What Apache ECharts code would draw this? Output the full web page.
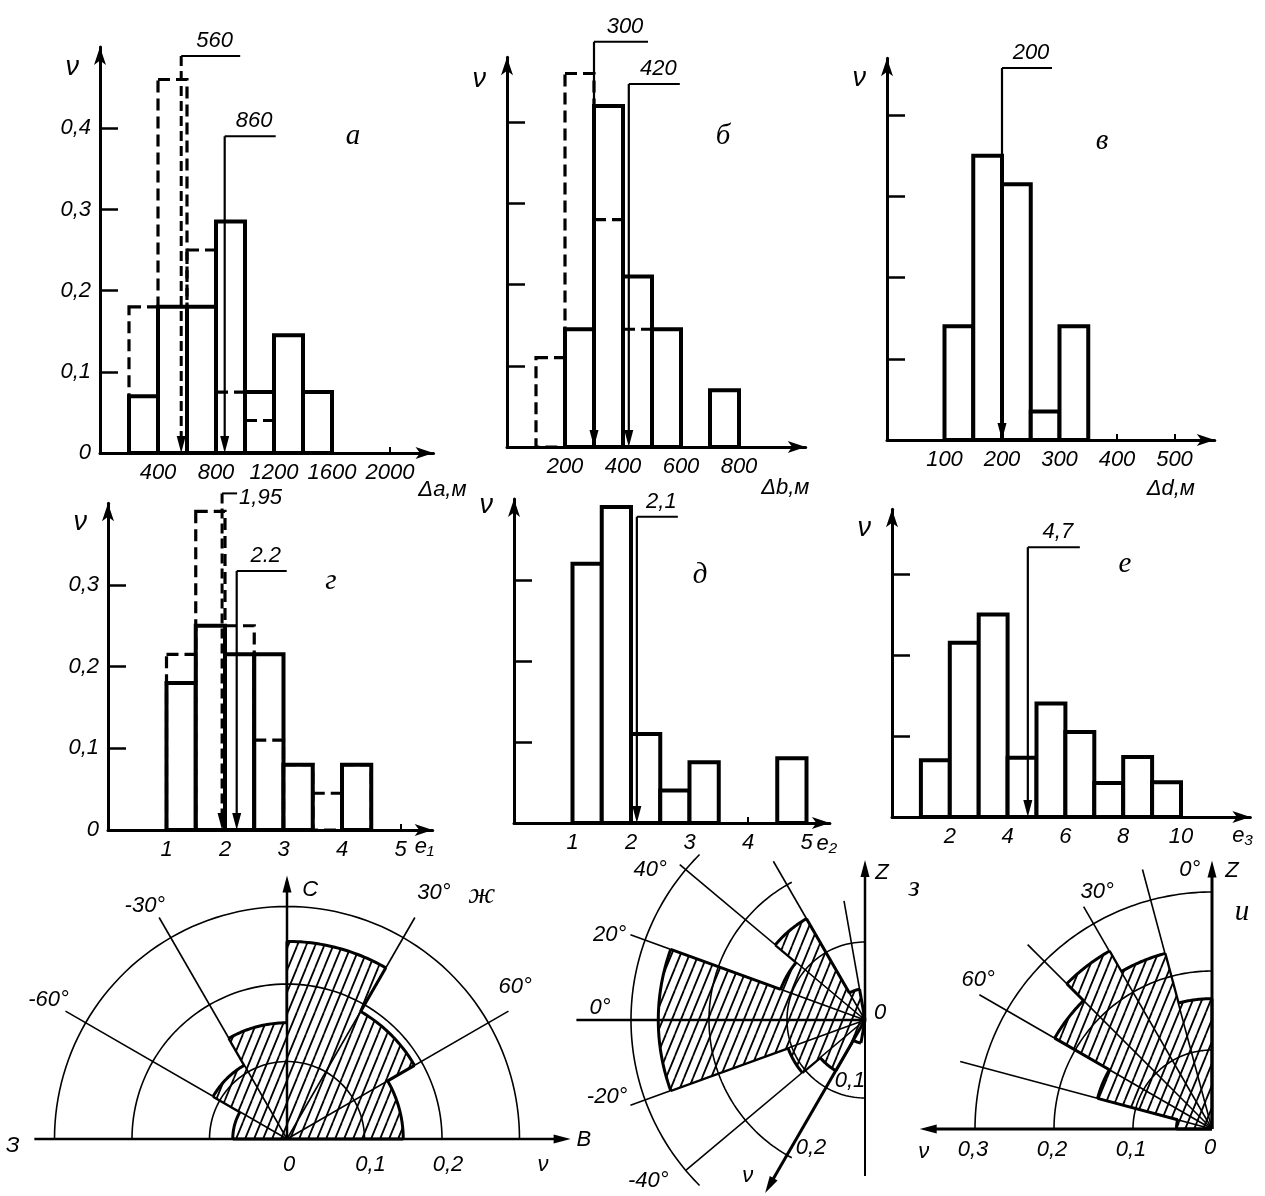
<!DOCTYPE html>
<html>
<head>
<meta charset="utf-8">
<title>Гистограммы и розы-диаграммы</title>
<script src="https://cdn.jsdelivr.net/npm/echarts@6/dist/echarts.min.js"></script>
<style>
  html, body { margin: 0; background: #fff; }
  #chart { width: 1265px; height: 1196px; }
</style>
</head>
<body>
<div id="chart"></div>
<script>
// ---------- histograms: bin edges and relative frequencies ν ----------
const aEdges = [200, 400, 600, 800, 1000, 1200, 1400, 1600];
const aSolid = [0.07, 0.18, 0.18, 0.285, 0.075, 0.145, 0.075];
const aDashed = [0.18, 0.46, 0.25, 0.075, 0.04, 0, 0];
const aMeans = [560, 860];
const aMeanLabels = ['560', '860'];
const aTicksX = [400, 800, 1200, 1600, 2000];

const bEdges = [100, 200, 300, 400, 500, 600, 700, 800];
const bSolid = [0, 0.145, 0.42, 0.21, 0.145, 0, 0.07];
const bDashed = [0.11, 0.46, 0.28, 0.145, 0, 0, 0];
const bMeans = [300, 420];
const bMeanLabels = ['300', '420'];
const bTicksX = [200, 400, 600, 800];

const vEdges = [100, 150, 200, 250, 300, 350];
const vSolid = [0.14, 0.35, 0.315, 0.035, 0.14];
const vMeans = [200];
const vMeanLabels = ['200'];
const vTicksX = [100, 200, 300, 400, 500];

const gEdges = [1, 1.5, 2, 2.5, 3, 3.5, 4, 4.5];
const gSolid = [0.18, 0.25, 0.215, 0.215, 0.08, 0, 0.08];
const gDashed = [0.215, 0.39, 0.25, 0.11, 0.08, 0.045, 0.08];
const gMeans = [1.95, 2.2];
const gMeanLabels = ['1,95', '2.2'];
const gTicksX = [1, 2, 3, 4, 5];

const dEdges = [1, 1.5, 2, 2.5, 3, 3.5, 4, 4.5, 5];
const dSolid = [0.32, 0.39, 0.11, 0.04, 0.075, 0, 0, 0.08];
const dMeans = [2.1];
const dMeanLabels = ['2,1'];
const dTicksX = [1, 2, 3, 4, 5];

const eEdges = [1, 2, 3, 4, 5, 6, 7, 8, 9, 10];
const eSolid = [0.07, 0.215, 0.25, 0.073, 0.14, 0.105, 0.042, 0.074, 0.043];
const eMeans = [4.7];
const eMeanLabels = ['4,7'];
const eTicksX = [2, 4, 6, 8, 10];

// ---------- rose diagrams: sector start angle (deg) and frequency ν ----------
const zhStart = [-90, -60, -30, 0, 30, 60];          // ж, 30° sectors, from north
const zhFreq = [0.07, 0.11, 0.15, 0.255, 0.19, 0.15];
const zhGuides = [-60, -30, 30, 60];
const zhRadiusTicks = [0, 0.1, 0.2];

const zeStart = [-80, -60, -40, -20, 0, 20, 40, 60]; // з, 20° sectors, from west
const zeFreq = [0.03, 0.075, 0.105, 0.265, 0.265, 0.115, 0.15, 0.04];
const zeGuides = [80, 60, 40, 20, -20, -40];
const zeRadiusTicks = [0, 0.1, 0.2];

const iStart = [0, 15, 30, 45, 60, 75];              // и, 15° sectors, from Z
const iFreq = [0.165, 0.23, 0.26, 0.23, 0.15, 0.045];
const iGuides = [15, 30, 45, 60, 75];
const iRadiusTicks = [0, 0.1, 0.2, 0.3];

const RINGS = [0.1, 0.2, 0.3];

// ---------- styles ----------
const SANS = '"Liberation Sans", "DejaVu Sans", sans-serif';
const LBL = 'italic 22px ' + SANS;
const LETTER = 'italic 29px "Liberation Serif", "DejaVu Serif", serif';

function fmt(v) { return String(v).replace('.', ','); }

// diagonal hatching for the roses
const HATCH = (function () {
  const w = 9, h = 22;
  const c = document.createElement('canvas');
  c.width = w; c.height = h;
  const g = c.getContext('2d');
  g.fillStyle = '#fff';
  g.fillRect(0, 0, w, h);
  g.strokeStyle = '#000';
  g.lineWidth = 1.8;
  [-w, 0, w].forEach(dx => {
    g.beginPath(); g.moveTo(dx, h); g.lineTo(dx + w, 0); g.stroke();
  });
  return { image: c, repeat: 'repeat' };
})();

function arrowHead(tip, from, len, half) {
  const dx = tip[0] - from[0], dy = tip[1] - from[1];
  const L = Math.hypot(dx, dy) || 1;
  const ux = dx / L, uy = dy / L;
  const bx = tip[0] - ux * len, by = tip[1] - uy * len;
  return [[tip[0], tip[1]], [bx - uy * half, by + ux * half], [bx + uy * half, by - ux * half]];
}

function txt(t, x, y, font, align) {
  return { type: 'text', x: x, y: y,
    style: { text: t, fill: '#000', font: font || LBL, align: align || 'center', verticalAlign: 'middle' } };
}

// ---------- histogram panels (layout) ----------
const hist = [
  { edges: aEdges, solid: aSolid, dashed: aDashed, means: aMeans, meanLabels: aMeanLabels, meanDash: [true, false],
    xTicks: aTicksX, xStep: 400, yTicks: [0.1, 0.2, 0.3, 0.4], yLabels: true, xName: 'Δa,м', letter: 'а', letterPos: [353, 136],
    left: 100, zeroY: 453, xMax: 2300, pxX: 0.145, yMax: 0.5, pxY: 812,
    leaderTop: [0.489, 0.39], leaderLen: [59, 51], labelSide: ['top', 'top'], xNameGap: -64, xNamePad: 26, yNameGap: -20 },
  { edges: bEdges, solid: bSolid, dashed: bDashed, means: bMeans, meanLabels: bMeanLabels, meanDash: [false, false],
    xTicks: bTicksX, xStep: 200, yTicks: [0.1, 0.2, 0.3, 0.4], yLabels: false, xName: 'Δb,м', letter: 'б', letterPos: [723, 136],
    left: 507, zeroY: 447, xMax: 1030, pxX: 0.29, yMax: 0.48, pxY: 812,
    leaderTop: [0.499, 0.447], leaderLen: [54, 51], labelSide: ['top', 'top'], xNameGap: -70, xNamePad: 30, yNameGap: -22 },
  { edges: vEdges, solid: vSolid, dashed: null, means: vMeans, meanLabels: vMeanLabels, meanDash: [false],
    xTicks: vTicksX, xStep: 100, yTicks: [0.1, 0.2, 0.3, 0.4], yLabels: false, xName: 'Δd,м', letter: 'в', letterPos: [1102, 141],
    left: 887, zeroY: 440, xMax: 570, pxX: 0.575, yMax: 0.47, pxY: 812,
    leaderTop: [0.458], leaderLen: [50], labelSide: ['top'], xNameGap: -68, xNamePad: 38, yNameGap: -20 },
  { edges: gEdges, solid: gSolid, dashed: gDashed, means: gMeans, meanLabels: gMeanLabels, meanDash: [true, false],
    xTicks: gTicksX, xStep: 1, yTicks: [0.1, 0.2, 0.3], yLabels: true, xName: 'e₁', letter: 'г', letterPos: [331, 581],
    left: 108, zeroY: 830, xMax: 5.55, pxX: 58.5, yMax: 0.40, pxY: 817,
    leaderTop: [0.412, 0.317], leaderLen: [15, 50], labelSide: ['right', 'top'], xNameGap: -18, xNamePad: 6, yNameGap: -19 },
  { edges: dEdges, solid: dSolid, dashed: null, means: dMeans, meanLabels: dMeanLabels, meanDash: [false],
    xTicks: dTicksX, xStep: 1, yTicks: [0.1, 0.2, 0.3], yLabels: false, xName: 'e₂', letter: 'д', letterPos: [700, 575],
    left: 514, zeroY: 823, xMax: 5.4, pxX: 58.5, yMax: 0.40, pxY: 810,
    leaderTop: [0.378], leaderLen: [41], labelSide: ['top'], xNameGap: -16, xNamePad: 10, yNameGap: -6 },
  { edges: eEdges, solid: eSolid, dashed: null, means: eMeans, meanLabels: eMeanLabels, meanDash: [false],
    xTicks: eTicksX, xStep: 2, yTicks: [0.1, 0.2, 0.3], yLabels: false, xName: 'e₃', letter: 'е', letterPos: [1125, 564],
    left: 892, zeroY: 817, xMax: 12.4, pxX: 28.9, yMax: 0.38, pxY: 810,
    leaderTop: [0.333], leaderLen: [52], labelSide: ['top'], xNameGap: -18, xNamePad: 8, yNameGap: -19 }
];

function bins(edges, heights) {
  return heights.map((h, i) => [edges[i], edges[i + 1], h]).filter(d => d[2] > 0);
}

function rectRender(style) {
  return function (params, api) {
    const p0 = api.coord([api.value(0), api.value(2)]);
    const p1 = api.coord([api.value(1), 0]);
    return { type: 'rect', shape: { x: p0[0], y: p0[1], width: p1[0] - p0[0], height: p1[1] - p0[1] }, style: style };
  };
}

function meanRender(P) {
  return function (params, api) {
    const i = params.dataIndex;
    const top = api.coord([api.value(0), api.value(1)]);
    const bot = api.coord([api.value(0), 0]);
    const dash = P.meanDash[i];
    const end = [top[0] + P.leaderLen[i], top[1]];
    const kids = [
      { type: 'line', shape: { x1: top[0], y1: top[1], x2: bot[0], y2: bot[1] - 12 },
        style: { stroke: '#000', lineWidth: dash ? 3 : 2.2, lineDash: dash ? [10, 5] : null } },
      { type: 'polygon', shape: { points: arrowHead(bot, top, 17, 4.5) }, style: { fill: '#000' } },
      { type: 'line', shape: { x1: top[0], y1: top[1], x2: end[0], y2: end[1] }, style: { stroke: '#000', lineWidth: 2 } }
    ];
    if (P.labelSide[i] === 'right') kids.push(txt(P.meanLabels[i], end[0] + 2, top[1] + 4, LBL, 'left'));
    else kids.push(txt(P.meanLabels[i], (top[0] + end[0]) / 2 + 4, top[1] - 15));
    return { type: 'group', children: kids };
  };
}

const grids = [], xAxes = [], yAxes = [], series = [], graphics = [];
const axisLineStyle = { color: '#000', width: 3 };

hist.forEach((P, i) => {
  const width = P.xMax * P.pxX, height = P.yMax * P.pxY;
  grids.push({ left: P.left, top: P.zeroY - height, width: width, height: height });
  xAxes.push({
    gridIndex: i, type: 'value', min: 0, max: P.xMax, interval: P.xStep,
    axisLine: { lineStyle: axisLineStyle, symbol: ['none', 'arrow'], symbolSize: [9, 18] },
    axisTick: { inside: true, length: 6, customValues: P.xTicks, lineStyle: { color: '#000', width: 2 } },
    axisLabel: { customValues: P.xTicks, formatter: v => (P.xTicks.indexOf(v) >= 0 ? String(v) : ''),
      color: '#000', fontStyle: 'italic', fontSize: 22, fontFamily: SANS, margin: 9 },
    splitLine: { show: false },
    name: P.xName, nameLocation: 'end', nameGap: P.xNameGap,
    nameTextStyle: { color: '#000', fontStyle: 'italic', fontSize: 22, fontFamily: SANS,
      align: 'left', verticalAlign: 'top', padding: [P.xNamePad, 0, 0, 0] }
  });
  const yLabelVals = [0].concat(P.yTicks);
  yAxes.push({
    gridIndex: i, type: 'value', min: 0, max: P.yMax, interval: 0.1,
    axisLine: { show: true, lineStyle: axisLineStyle, symbol: ['none', 'arrow'], symbolSize: [9, 18] },
    axisTick: { show: true, inside: true, length: 18, customValues: P.yTicks, lineStyle: { color: '#000', width: 2.5 } },
    axisLabel: { show: P.yLabels, customValues: yLabelVals,
      formatter: v => (yLabelVals.indexOf(v) >= 0 ? fmt(v) : ''),
      color: '#000', fontStyle: 'italic', fontSize: 22, fontFamily: SANS, margin: 9 },
    splitLine: { show: false },
    name: 'ν', nameLocation: 'end', nameGap: P.yNameGap,
    nameTextStyle: { color: '#000', fontStyle: 'italic', fontSize: 27, fontFamily: SANS,
      align: 'right', verticalAlign: 'middle', padding: [0, 21, 0, 0] }
  });
  series.push({
    type: 'custom', xAxisIndex: i, yAxisIndex: i, z: 3, encode: { x: [0, 1], y: 2 },
    data: bins(P.edges, P.solid),
    renderItem: rectRender({ fill: '#fff', stroke: '#000', lineWidth: 4 })
  });
  if (P.dashed) {
    series.push({
      type: 'custom', xAxisIndex: i, yAxisIndex: i, z: 4, encode: { x: [0, 1], y: 2 },
      data: bins(P.edges, P.dashed),
      renderItem: rectRender({ fill: 'none', stroke: '#000', lineWidth: 3.2, lineDash: [12, 6] })
    });
  }
  series.push({
    type: 'custom', xAxisIndex: i, yAxisIndex: i, z: 5, encode: { x: 0, y: 1 },
    data: P.means.map((m, k) => [m, P.leaderTop[k]]),
    renderItem: meanRender(P)
  });
  graphics.push({ type: 'text', x: P.letterPos[0], y: P.letterPos[1],
    style: { text: P.letter, fill: '#000', font: LETTER, align: 'center', verticalAlign: 'middle',
      textAlign: 'center', textVerticalAlign: 'middle' } });
});

// ---------- rose panels (layout) ----------
const roses = [
  { center: [287, 1139], px01: 77.5, startAngle: 270, clockwise: true, step: 30, start: zhStart, freq: zhFreq,
    rings: RINGS.map(r => [r, -90, 90]),
    guides: zhGuides.map(a => [a, 0.33]),
    axes: [[-90, 0.326, 2.5, false], [90, 0.366, 2.5, true], [0, 0.34, 2.5, true]],
    ticks: zhRadiusTicks, tickAngle: 90, tickOffset: [6, 26], zeroOffset: [2, 26],
    texts: [['-60°', 0.356, -59.8], ['-30°', 0.352, -31.4], ['30°', 0.37, 30.8], ['60°', 0.354, 56.3],
      ['С', 0.323, 5.3], ['З', 0.354, -91.5], ['В', 0.383, 90.2], ['ν', 0.332, 95.8]],
    letter: ['ж', 0.403, 38.6] },
  { center: [865, 1020], px01: 78, startAngle: 0, clockwise: true, step: 20, start: zeStart, freq: zeFreq,
    rings: [[0.1, -90, 90], [0.2, -62, 62], [0.3, -45, 45]],
    guides: zeGuides.map((a, k) => [a, [0.155, 0.235, 0.31, 0.32, 0.32, 0.30][k]]),
    axes: [[90, 0.205, 2.5, true], [-90, 0.2, 2, false], [-60, 0.256, 3, true], [0, 0.37, 2.5, false]],
    ticks: zeRadiusTicks, tickAngle: -60, tickOffset: [24, -7], zeroOffset: [15, -7],
    texts: [['40°', 0.336, 34.9], ['20°', 0.345, 18.4], ['0°', 0.34, 2.6], ['-20°', 0.345, -16.6],
      ['-40°', 0.346, -36.6], ['ν', 0.25, -53], ['Z', 0.19, 96.6]],
    letter: ['з', 0.18, 110.5] },
  { center: [1212, 1129], px01: 79, startAngle: 270, clockwise: false, step: 15, start: iStart, freq: iFreq,
    rings: RINGS.map(r => [r, 0, 90]),
    guides: iGuides.map((a, k) => [a, [0.34, 0.325, 0.33, 0.34, 0.33][k]]),
    axes: [[0, 0.34, 3, true], [90, 0.37, 3, true]],
    ticks: iRadiusTicks, tickAngle: 90, tickOffset: [-2, 21], zeroOffset: [-2, 19],
    texts: [['0°', 0.329, 4.9], ['Z', 0.328, -4.4], ['30°', 0.333, 25.9], ['60°', 0.351, 57.5], ['ν', 0.366, 94.6]],
    letter: ['и', 0.277, -7.9] }
];

function arcPoints(api, r, a0, a1, n) {
  n = n || 30;
  const pts = [];
  for (let k = 0; k <= n; k++) pts.push(api.coord([r, a0 + (a1 - a0) * k / n]));
  return pts;
}

function radial(api, a, r0, r1, w) {
  const p = api.coord([r0, a]), q = api.coord([r1, a]);
  return { type: 'line', shape: { x1: p[0], y1: p[1], x2: q[0], y2: q[1] }, style: { stroke: '#000', lineWidth: w } };
}

function sectorRender(R) {
  return function (params, api) {
    const i = params.dataIndex;
    const r = api.value(0), a0 = api.value(1), a1 = a0 + R.step;
    if (!(r > 0)) return null;
    const c = api.coord([0, a0]);
    const arc = arcPoints(api, r, a0, a1);
    const kids = [
      { type: 'polygon', shape: { points: [c].concat(arc) }, style: { fill: HATCH, stroke: null } },
      { type: 'polyline', shape: { points: arc }, style: { stroke: '#000', lineWidth: 3, fill: null } }
    ];
    const next = i + 1 < R.freq.length ? R.freq[i + 1] : 0;
    kids.push(radial(api, a1, Math.min(r, next), Math.max(r, next), 3));
    if (i === 0) kids.push(radial(api, a0, 0, r, 3));
    return { type: 'group', children: kids };
  };
}

function decorRender(R) {
  return function (params, api) {
    const kids = [];
    R.rings.forEach(g => kids.push({ type: 'polyline', shape: { points: arcPoints(api, g[0], g[1], g[2], 90) },
      style: { stroke: '#000', lineWidth: 1.6, fill: null } }));
    R.guides.forEach(g => kids.push(radial(api, g[0], 0, g[1], 1.6)));
    R.axes.forEach(ax => {
      const a = ax[0], len = ax[1];
      kids.push(radial(api, a, 0, ax[3] ? len - 0.015 : len, ax[2]));
      if (ax[3]) kids.push({ type: 'polygon', shape: { points: arrowHead(api.coord([len, a]), api.coord([0, a]), 17, 4.5) },
        style: { fill: '#000' } });
    });
    R.texts.forEach(t => { const p = api.coord([t[1], t[2]]); kids.push(txt(t[0], p[0], p[1])); });
    R.ticks.forEach(v => {
      const p = api.coord([v, R.tickAngle]);
      const o = v === 0 ? R.zeroOffset : R.tickOffset;
      kids.push(txt(fmt(v), p[0] + o[0], p[1] + o[1]));
    });
    const lp = api.coord([R.letter[1], R.letter[2]]);
    kids.push(txt(R.letter[0], lp[0], lp[1], LETTER));
    return { type: 'group', children: kids };
  };
}

const polars = [], angleAxes = [], radiusAxes = [];
roses.forEach((R, k) => {
  polars.push({ center: R.center, radius: R.px01 * 4 });
  angleAxes.push({ polarIndex: k, type: 'value', min: -180, max: 180, startAngle: R.startAngle, clockwise: R.clockwise, show: false });
  radiusAxes.push({ polarIndex: k, type: 'value', min: 0, max: 0.4, show: false });
  series.push({
    type: 'custom', coordinateSystem: 'polar', polarIndex: k, z: 3, encode: { radius: 0, angle: 1 },
    data: R.start.map((a, i) => [R.freq[i], a]),
    renderItem: sectorRender(R)
  });
  series.push({
    type: 'custom', coordinateSystem: 'polar', polarIndex: k, z: 4, encode: { radius: 0, angle: 1 },
    data: [[0, 0]],
    renderItem: decorRender(R)
  });
});

const chart = echarts.init(document.getElementById('chart'));
chart.setOption({
  backgroundColor: '#fff',
  animation: false,
  grid: grids,
  xAxis: xAxes,
  yAxis: yAxes,
  polar: polars,
  angleAxis: angleAxes,
  radiusAxis: radiusAxes,
  series: series,
  graphic: graphics
});
</script>
</body>
</html>
